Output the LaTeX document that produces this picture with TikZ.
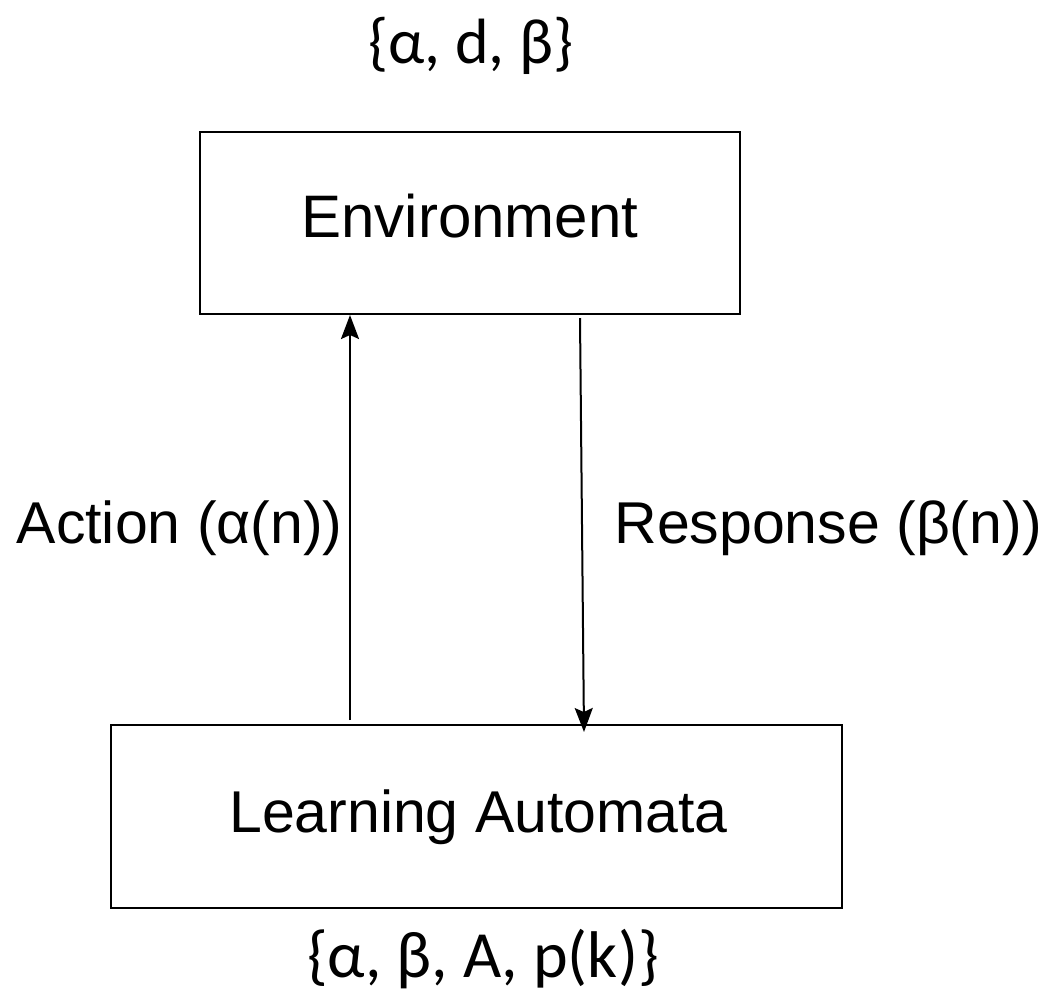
\documentclass[tikz,border=0pt]{standalone}
\usepackage{fontspec}
\setmainfont{Liberation Sans}
\newfontfamily\setfont{Carlito}
\usetikzlibrary{arrows.meta}
\begin{document}
\begin{tikzpicture}[x=0.5pt,y=-0.5pt,
  box/.style={draw=black,line width=1.2pt,inner sep=0pt,minimum width=#1},
  lbl/.style={inner sep=0pt,font=\fontsize{29.5}{34}\selectfont},
  setlbl/.style={inner sep=0pt,font=\setfont\fontsize{32}{38}\selectfont},
  flow/.style={line width=1pt,-{Stealth[length=12pt,width=9pt,inset=2pt]}}]
  \useasboundingbox (0,0) rectangle (1045,992);
  % blocks
  \node[box=270pt,minimum height=91pt] (env) at (470,223) {};
  \node[box=365.5pt,minimum height=91.5pt] (la) at (476.5,816.5) {};
  % block titles
  \node[lbl,font=\fontsize{30}{34}\selectfont,anchor=base] (envt) at (470,237) {Environment};
  \node[lbl,anchor=base] (lat) at (478.5,832) {Learning Automata};
  % parameter sets
  \node[setlbl,anchor=base] (envset) at (471,63) {\{α, d, β\}};
  \node[setlbl,font=\setfont\fontsize{33}{38}\selectfont,anchor=base] (laset) at (483,977) {\{α, β, A, p(k)\}};
  % signal paths
  \coordinate (actS) at (350,720);
  \coordinate (actE) at (350,315);
  \coordinate (resS) at (580,318);
  \coordinate (resE) at (584,732);
  \draw[flow] (actS) -- (actE);
  \draw[flow] (resS) -- (resE);
  \node[lbl,anchor=base east] (act) at (343,543) {Action (α(n))};
  \node[lbl,anchor=base west] (res) at (614,543) {Response (β(n))};
\end{tikzpicture}
\end{document}
